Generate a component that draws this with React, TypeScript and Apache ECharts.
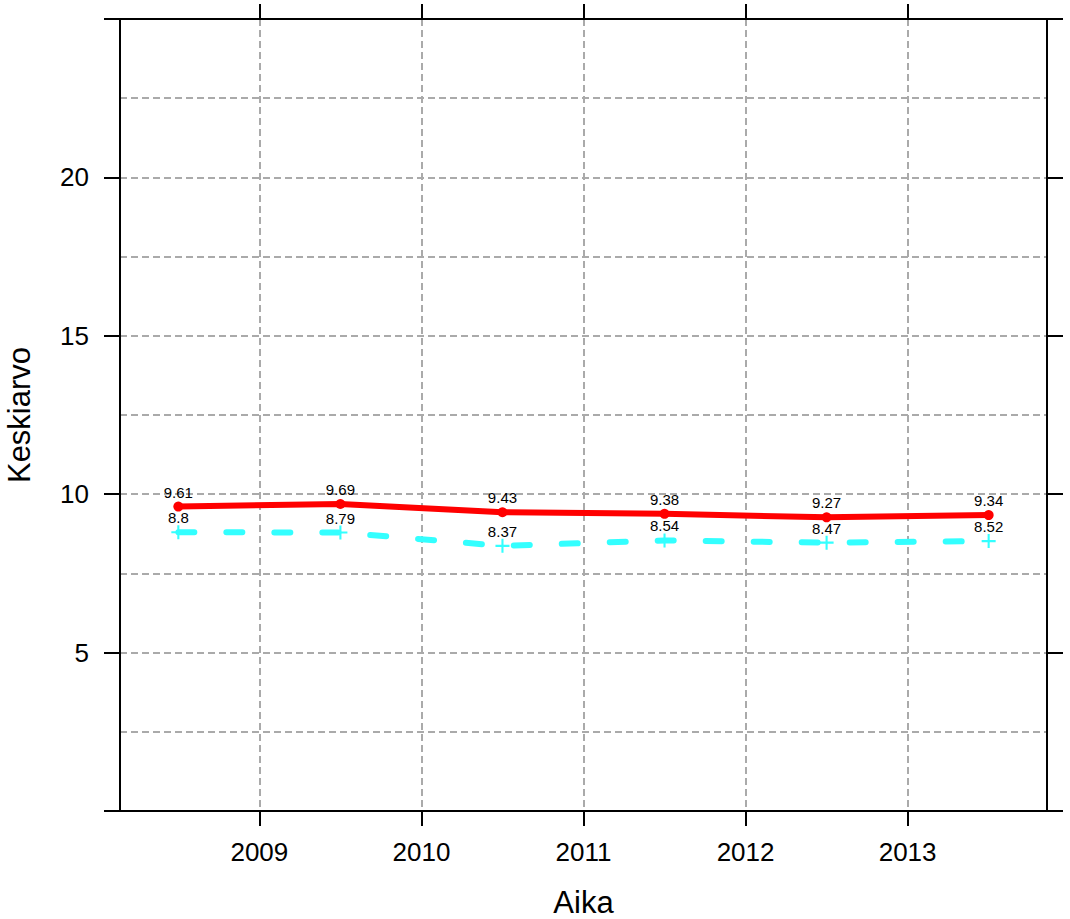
import React, { useEffect, useRef } from 'react';
import * as echarts from 'echarts';

// Data
const xPositions = [2008.5, 2009.5, 2010.5, 2011.5, 2012.5, 2013.5];
const redValues = [9.61, 9.69, 9.43, 9.38, 9.27, 9.34];
const cyanValues = [8.8, 8.79, 8.37, 8.54, 8.47, 8.52];
const xTickValues = [2009, 2010, 2011, 2012, 2013];
const yTickValues = [5, 10, 15, 20];
const xRange = [2008.14, 2013.86];
const yRange = [0, 25];
const yGridStep = 2.5;
const xTitle = 'Aika';
const yTitle = 'Keskiarvo';

const FONT = '"Liberation Sans", Arial, Helvetica, sans-serif';
const PLUS = 'path://M8.5,0H11.5V8.5H20V11.5H11.5V20H8.5V11.5H0V8.5H8.5Z';

export default function App() {
  const ref = useRef<HTMLDivElement>(null);
  useEffect(() => {
    if (!ref.current) return;
    const chart = echarts.init(ref.current, undefined, { renderer: 'svg' });
    const gridLine = { show: true, lineStyle: { color: '#aaaaaa', width: 2, type: [7, 4] as any } };
    const axisLine = { show: true, onZero: false, lineStyle: { color: '#000', width: 2 } };
    const option: any = {
      animation: false,
      backgroundColor: '#fff',
      textStyle: { fontFamily: FONT },
      grid: { left: 120, right: 23, top: 19, bottom: 108, containLabel: false, outerBoundsMode: 'none' },
      xAxis: [
        {
          type: 'value', position: 'bottom', min: xRange[0], max: xRange[1],
          axisLine,
          axisTick: { show: true, inside: false, length: 15, customValues: xTickValues, lineStyle: { color: '#000', width: 2 } },
          axisLabel: { show: true, customValues: xTickValues, formatter: (v: number) => String(v), fontSize: 26, color: '#000', margin: 28, fontFamily: FONT },
          splitLine: gridLine,
          name: xTitle, nameLocation: 'middle', nameGap: 76,
          nameTextStyle: { fontSize: 31, color: '#000', fontFamily: FONT },
        },
        {
          type: 'value', position: 'top', min: xRange[0], max: xRange[1],
          axisLine,
          axisTick: { show: true, inside: false, length: 15, customValues: xTickValues, lineStyle: { color: '#000', width: 2 } },
          axisLabel: { show: false },
          splitLine: { show: false },
        },
      ],
      yAxis: [
        {
          type: 'value', position: 'left', min: yRange[0], max: yRange[1], interval: 5,
          axisLine,
          axisTick: { show: true, inside: false, length: 16, customValues: yTickValues, lineStyle: { color: '#000', width: 2 } },
          axisLabel: { show: true, customValues: yTickValues, formatter: (v: number) => String(v), fontSize: 26, color: '#000', margin: 31, fontFamily: FONT },
          splitLine: { show: false },
          name: yTitle, nameLocation: 'middle', nameGap: 85, nameRotate: 90,
          nameTextStyle: { fontSize: 31, color: '#000', fontFamily: FONT },
        },
        {
          type: 'value', position: 'right', min: yRange[0], max: yRange[1], interval: 5,
          axisLine,
          axisTick: { show: true, inside: false, length: 16, customValues: yTickValues, lineStyle: { color: '#000', width: 2 } },
          axisLabel: { show: false },
          splitLine: { show: false },
        },
        {
          type: 'value', position: 'left', min: yRange[0], max: yRange[1], interval: yGridStep,
          axisLine: { show: false, onZero: false },
          axisTick: { show: false },
          axisLabel: { show: false },
          splitLine: gridLine,
        },
      ],
      graphic: [
        { type: 'line', z: 10, shape: { x1: 104, y1: 19, x2: 1063, y2: 19 }, style: { stroke: '#000', lineWidth: 2 } },
        { type: 'line', z: 10, shape: { x1: 104, y1: 811, x2: 1063, y2: 811 }, style: { stroke: '#000', lineWidth: 2 } },
      ],
      series: [
        {
          type: 'line', xAxisIndex: 0, yAxisIndex: 0,
          data: xPositions.map((x, i) => [x, cyanValues[i]]),
          lineStyle: { color: '#33ffff', width: 6, type: [16, 32] as any, cap: 'round' },
          itemStyle: { color: '#33ffff' },
          symbol: PLUS, symbolSize: 14,
          label: { show: true, position: 'top', distance: 0, fontSize: 15, color: '#000', fontFamily: FONT,
            formatter: (p: any) => String(p.value[1]) },
          z: 3,
        },
        {
          type: 'line', xAxisIndex: 0, yAxisIndex: 0,
          data: xPositions.map((x, i) => [x, redValues[i]]),
          lineStyle: { color: '#ff0000', width: 6 },
          itemStyle: { color: '#ff0000' },
          symbol: 'circle', symbolSize: 10,
          label: { show: true, position: 'top', distance: 2, fontSize: 15, color: '#000', fontFamily: FONT,
            formatter: (p: any) => String(p.value[1]) },
          z: 4,
        },
      ],
    };
    chart.setOption(option);
    return () => chart.dispose();
  }, []);
  return <div ref={ref} style={{ position: 'absolute', left: 0, top: 0, width: 1070, height: 919 }} />;
}
